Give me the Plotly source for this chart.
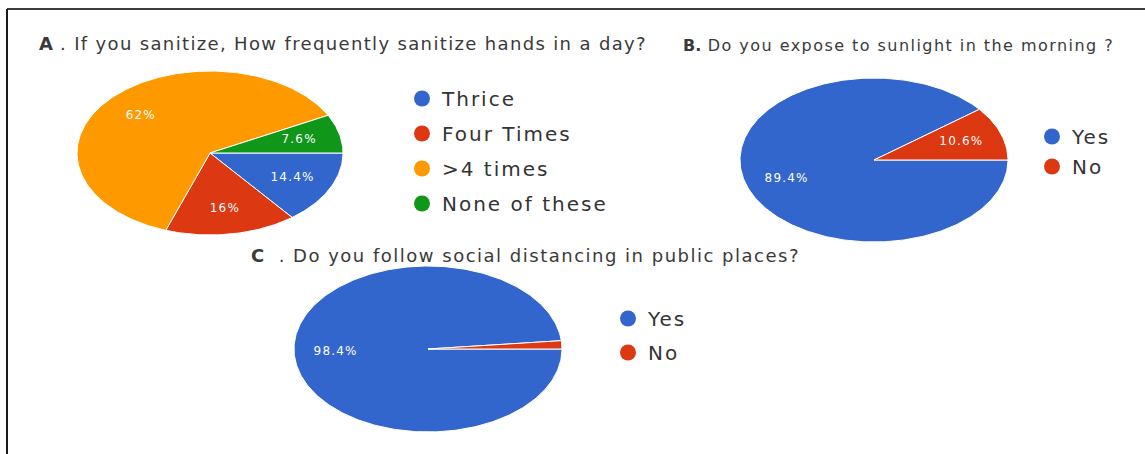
import numpy as np
import plotly.graph_objects as go

W, H = 1145, 454

# ---------------- data ----------------
a_title_key = "A"
a_title = " . If you sanitize, How frequently sanitize hands in a day?"
a_labels = ["Thrice", "Four Times", ">4 times", "None of these"]
a_values = [14.4, 16.0, 62.0, 7.6]

b_title_key = "B."
b_title = " Do you expose to sunlight in the morning ?"
b_labels = ["Yes", "No"]
b_values = [89.4, 10.6]

c_title_key = "C"
c_title = "  . Do you follow social distancing in public places?"
c_labels = ["Yes", "No"]
c_values = [98.4, 1.6]

# ---------------- styles / layout ----------------
COL4 = ["#3366CC", "#DC3912", "#FF9900", "#109618"]
COL2 = ["#3366CC", "#DC3912"]
FONT = "DejaVu Sans"


def spaced(s, ls):
    return f'<span style="letter-spacing:{ls}px">{s}</span>'


panels = [
    dict(labels=a_labels, values=a_values, colors=COL4, cx=210, cy=153, rx=133, ry=82,
         legend="legend", lx=402, ly=79, gap=6),
    dict(labels=b_labels, values=b_values, colors=COL2, cx=874, cy=160, rx=134, ry=82,
         legend="legend2", lx=1032, ly=117, gap=1),
    dict(labels=c_labels, values=c_values, colors=COL2, cx=428, cy=349, rx=134, ry=83,
         legend="legend3", lx=608, ly=299, gap=5),
]


def px_x(v):
    return v / W


def px_y(v):
    return 1 - v / H


fig = go.Figure()
layout_axes = {}

for i, p in enumerate(panels, start=1):
    xa = "x" if i == 1 else f"x{i}"
    ya = "y" if i == 1 else f"y{i}"
    xkey = "xaxis" if i == 1 else f"xaxis{i}"
    ykey = "yaxis" if i == 1 else f"yaxis{i}"
    layout_axes[xkey] = dict(domain=[px_x(p["cx"] - p["rx"]), px_x(p["cx"] + p["rx"])],
                             range=[-1, 1], visible=False, fixedrange=True)
    layout_axes[ykey] = dict(domain=[px_y(p["cy"] + p["ry"]), px_y(p["cy"] - p["ry"])],
                             range=[-1, 1], visible=False, fixedrange=True)

    vals = np.array(p["values"], dtype=float)
    fr = vals / vals.sum()
    starts = np.concatenate([[0], np.cumsum(fr)[:-1]])
    ends = np.cumsum(fr)
    tx, ty, tt = [], [], []
    for j, (s, e) in enumerate(zip(starts, ends)):
        n = max(3, int(400 * (e - s)))
        t = 2 * np.pi * np.linspace(s, e, n)
        xs = np.concatenate([[0], np.cos(t), [0]])
        ys = np.concatenate([[0], -np.sin(t), [0]])
        fig.add_trace(go.Scatter(x=xs, y=ys, mode="lines", fill="toself",
                                 fillcolor=p["colors"][j],
                                 line=dict(color="white", width=1),
                                 hoverinfo="skip", showlegend=False,
                                 xaxis=xa, yaxis=ya))
        if vals[j] >= 5:
            m = 2 * np.pi * (s + e) / 2
            tx.append(0.69 * np.cos(m))
            ty.append(-0.69 * np.sin(m))
            tt.append(spaced(f"{vals[j]:g}%", 1.2))
    fig.add_trace(go.Scatter(x=tx, y=ty, text=tt, mode="text",
                             textfont=dict(family=FONT, size=12, color="white"),
                             hoverinfo="skip", showlegend=False, xaxis=xa, yaxis=ya))
    # legend entries
    for j, lab in enumerate(p["labels"]):
        fig.add_trace(go.Scatter(x=[None], y=[None], mode="markers", name=spaced(lab, 2),
                                 marker=dict(size=16, color=p["colors"][j]),
                                 legend=p["legend"], legendgroup=f"{i}-{j}",
                                 xaxis=xa, yaxis=ya))
    layout_axes[p["legend"]] = dict(x=px_x(p["lx"]), y=px_y(p["ly"]), xanchor="left",
                                    yanchor="top", bgcolor="rgba(0,0,0,0)",
                                    font=dict(family=FONT, size=20, color="#333333"),
                                    tracegroupgap=p["gap"], itemclick=False,
                                    itemdoubleclick=False)

annotations = [
    dict(x=px_x(37), y=px_y(44), text=f"<b>{a_title_key}</b>{spaced(a_title, 1.35)}", font_size=18),
    dict(x=px_x(681), y=px_y(45), text=f"<b>{b_title_key}</b>{spaced(b_title, 1.45)}", font_size=16),
    dict(x=px_x(249), y=px_y(255), text=f"<b>{c_title_key}</b>{spaced(c_title, 1.5)}", font_size=18),
]
for an in annotations:
    fs = an.pop("font_size")
    an.update(xref="paper", yref="paper", xanchor="left", yanchor="middle",
              showarrow=False, font=dict(family=FONT, size=fs, color="#3a3a3a"))

shapes = [
    dict(type="line", xref="paper", yref="paper", x0=px_x(7), x1=1, y0=px_y(9), y1=px_y(9),
         line=dict(color="#3c3c3c", width=2)),
    dict(type="line", xref="paper", yref="paper", x0=px_x(7), x1=px_x(7), y0=px_y(9), y1=0,
         line=dict(color="#1a1a1a", width=2)),
]

fig.update_layout(width=W, height=H, margin=dict(l=0, r=0, t=0, b=0),
                  paper_bgcolor="white", plot_bgcolor="white",
                  annotations=annotations, shapes=shapes, **layout_axes)

fig.write_html("out.html", config={"displayModeBar": False})
